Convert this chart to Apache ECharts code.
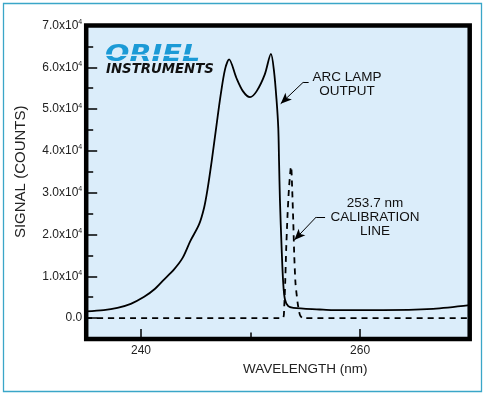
<!DOCTYPE html>
<html><head><meta charset="utf-8">
<script src="https://cdn.jsdelivr.net/npm/echarts@6/dist/echarts.min.js"></script>
<style>html,body{margin:0;padding:0;background:#fff}#c{width:486px;height:394px}</style>
</head><body><div id="c"></div>
<script>
// Arc lamp output (solid)
const lampNm = [235.0, 236.6, 237.85, 239.07, 240.29, 241.2, 242.1, 243.0, 243.8, 244.5, 245.3, 245.76, 246.06, 246.45, 246.9, 247.28, 247.67, 248.04, 248.7, 249.3, 249.95, 250.56, 251.3, 251.86, 252.14, 252.38, 252.53, 252.6, 252.68, 252.84, 252.98, 253.14, 253.44, 253.9, 256.3, 257.5, 262.1, 266.66, 270.0];
const lampSignal = [1600, 1900, 2460, 3420, 5100, 6840, 9230, 11600, 14400, 18400, 22400, 26400, 30600, 37500, 46300, 53500, 59500, 61900, 57500, 54300, 52850, 54300, 58300, 63200, 59100, 51900, 45500, 37500, 28400, 16400, 8440, 4450, 2850, 2460, 2060, 1890, 1890, 2220, 3100];
// 253.7 nm calibration line (dashed)
const calNm = [235.0, 252.95, 253.07, 253.16, 253.25, 253.37, 253.5, 253.65, 253.71, 253.8, 253.9, 253.99, 254.1, 254.3, 254.5, 254.75, 270.0];
const calSignal = [0, 0, 2700, 8400, 16400, 24400, 30800, 35600, 36300, 30800, 22900, 14800, 8400, 3600, 800, 0, 0];
// tick labels
const xTickLabels = [240, 260];
const yTickLabels = ['0.0', '1.0', '2.0', '3.0', '4.0', '5.0', '6.0', '7.0'];
// annotation arrows [nm, signal]
const arcArrow = [[255.3, 56400], [254.8, 56400], [252.75, 51300]];
const calArrow = [[256.8, 24200], [256.0, 24200], [254.0, 18700]];

const FONT = '"Liberation Sans", Arial, sans-serif';
const BG = '#dbedfa';
const tickStyle = {color: '#000', width: 1.5};
const zip = (a, b) => a.map((v, i) => [v, b[i]]);

const chart = echarts.init(document.getElementById('c'), null, {renderer: 'canvas'});
chart.setOption({
  animation: false,
  backgroundColor: '#fff',
  grid: [
    {left: 86.2, right: 16.3, top: 25.5, bottom: 55, show: true, backgroundColor: BG, borderColor: '#000', borderWidth: 4.5},
    {left: 86.2, right: 16.3, top: 25.5, bottom: 75.9, show: false},
    {left: 141.0, right: 16.3, top: 25.5, bottom: 55, show: false}
  ],
  xAxis: [
    {gridIndex: 0, type: 'value', min: 235, max: 270,
      axisLine: {show: false}, splitLine: {show: false}, axisLabel: {show: false}, axisTick: {show: false}},
    {gridIndex: 1, type: 'value', min: 235, max: 270,
      axisLine: {show: false}, splitLine: {show: false}, axisLabel: {show: false}, axisTick: {show: false}},
    {gridIndex: 2, type: 'value', min: 240, max: 270, interval: 10, position: 'bottom',
      axisLine: {show: false}, splitLine: {show: false}, axisLabel: {show: false},
      axisTick: {inside: true, length: 6.5, lineStyle: tickStyle}},
    {gridIndex: 2, type: 'value', min: 240, max: 270, interval: 20, position: 'bottom',
      axisLine: {show: false}, splitLine: {show: false},
      axisTick: {inside: true, length: 10, lineStyle: tickStyle},
      axisLabel: {margin: 6, fontSize: 12, color: '#222', fontFamily: FONT,
        formatter: v => xTickLabels.includes(v) ? String(v) : ''},
      name: 'WAVELENGTH (nm)', nameLocation: 'middle', nameGap: 22,
      nameTextStyle: {fontSize: 13.5, color: '#222', fontFamily: FONT}}
  ],
  yAxis: [
    {gridIndex: 0, type: 'value', min: -5000, max: 70000, interval: 5000,
      axisLine: {show: false}, splitLine: {show: false}, axisLabel: {show: false},
      axisTick: {inside: true, length: 7, lineStyle: tickStyle}},
    {gridIndex: 1, type: 'value', min: 0, max: 70000, interval: 10000,
      axisLine: {show: false}, splitLine: {show: false},
      axisTick: {inside: true, length: 11, lineStyle: tickStyle},
      axisLabel: {margin: 4, color: '#222', fontFamily: FONT, fontSize: 12,
        formatter: v => {
          const m = yTickLabels[Math.round(v / 10000)];
          return v === 0 ? '{b|' + m + '}' : '{b|' + m + 'x10}{s|4}';
        },
        rich: {
          b: {fontSize: 12, fontFamily: FONT, color: '#222', lineHeight: 14},
          s: {fontSize: 7, fontFamily: FONT, color: '#222', verticalAlign: 'top', lineHeight: 9}
        }},
      name: 'SIGNAL (COUNTS)', nameLocation: 'middle', nameGap: 58, nameRotate: 90,
      nameTextStyle: {fontSize: 15, color: '#222', fontFamily: FONT}},
    {gridIndex: 2, type: 'value', min: 0, max: 1,
      axisLine: {show: false}, splitLine: {show: false}, axisLabel: {show: false}, axisTick: {show: false}}
  ],
  series: [
    {type: 'line', xAxisIndex: 0, yAxisIndex: 0, data: zip(lampNm, lampSignal),
      showSymbol: false, smooth: 0.3,
      lineStyle: {color: '#000', width: 1.8},
      markLine: {silent: true, animation: false, symbol: ['none', 'arrow'], symbolSize: [7, 11],
        label: {show: false}, lineStyle: {color: '#000', width: 1, type: 'solid'},
        data: [
          [{coord: arcArrow[0], symbol: 'none'}, {coord: arcArrow[1], symbol: 'none'}],
          [{coord: arcArrow[1]}, {coord: arcArrow[2]}],
          [{coord: calArrow[0], symbol: 'none'}, {coord: calArrow[1], symbol: 'none'}],
          [{coord: calArrow[1]}, {coord: calArrow[2]}]
        ]}},
    {type: 'line', xAxisIndex: 0, yAxisIndex: 0, data: zip(calNm, calSignal),
      showSymbol: false, smooth: 0.2,
      lineStyle: {color: '#000', width: 1.8, type: [6, 5]}}
  ],
  graphic: [
    {type: 'rect', shape: {x: 3.5, y: 3.5, width: 478, height: 388},
      style: {fill: 'none', stroke: '#3aa6c8', lineWidth: 1.3}, z: 10},
    {type: 'text', x: 105, y: 44, scaleX: 1.25, z: 10,
      style: {text: 'ORIEL', fontSize: 23, fontWeight: 'bold', fontStyle: 'italic',
        fontFamily: '"DejaVu Sans", sans-serif', fill: '#1b9ad6', align: 'left', verticalAlign: 'top'}},
    {type: 'rect', shape: {x: 104, y: 54.5, width: 96, height: 1.4}, style: {fill: BG}, z: 11},
    {type: 'text', x: 106, y: 63, z: 10,
      style: {text: 'INSTRUMENTS', fontSize: 13.3, fontWeight: 'bold', fontStyle: 'italic',
        fontFamily: '"DejaVu Sans", sans-serif', fill: '#111', align: 'left', verticalAlign: 'top'}},
    {type: 'text', x: 347, y: 84, z: 10,
      style: {text: 'ARC LAMP\nOUTPUT', fontSize: 13.5, fontFamily: FONT, fill: '#111',
        align: 'center', verticalAlign: 'middle', lineHeight: 14}},
    {type: 'text', x: 375, y: 217, z: 10,
      style: {text: '253.7 nm\nCALIBRATION\nLINE', fontSize: 13.5, fontFamily: FONT, fill: '#111',
        align: 'center', verticalAlign: 'middle', lineHeight: 14}}
  ]
});
</script>
</body></html>
